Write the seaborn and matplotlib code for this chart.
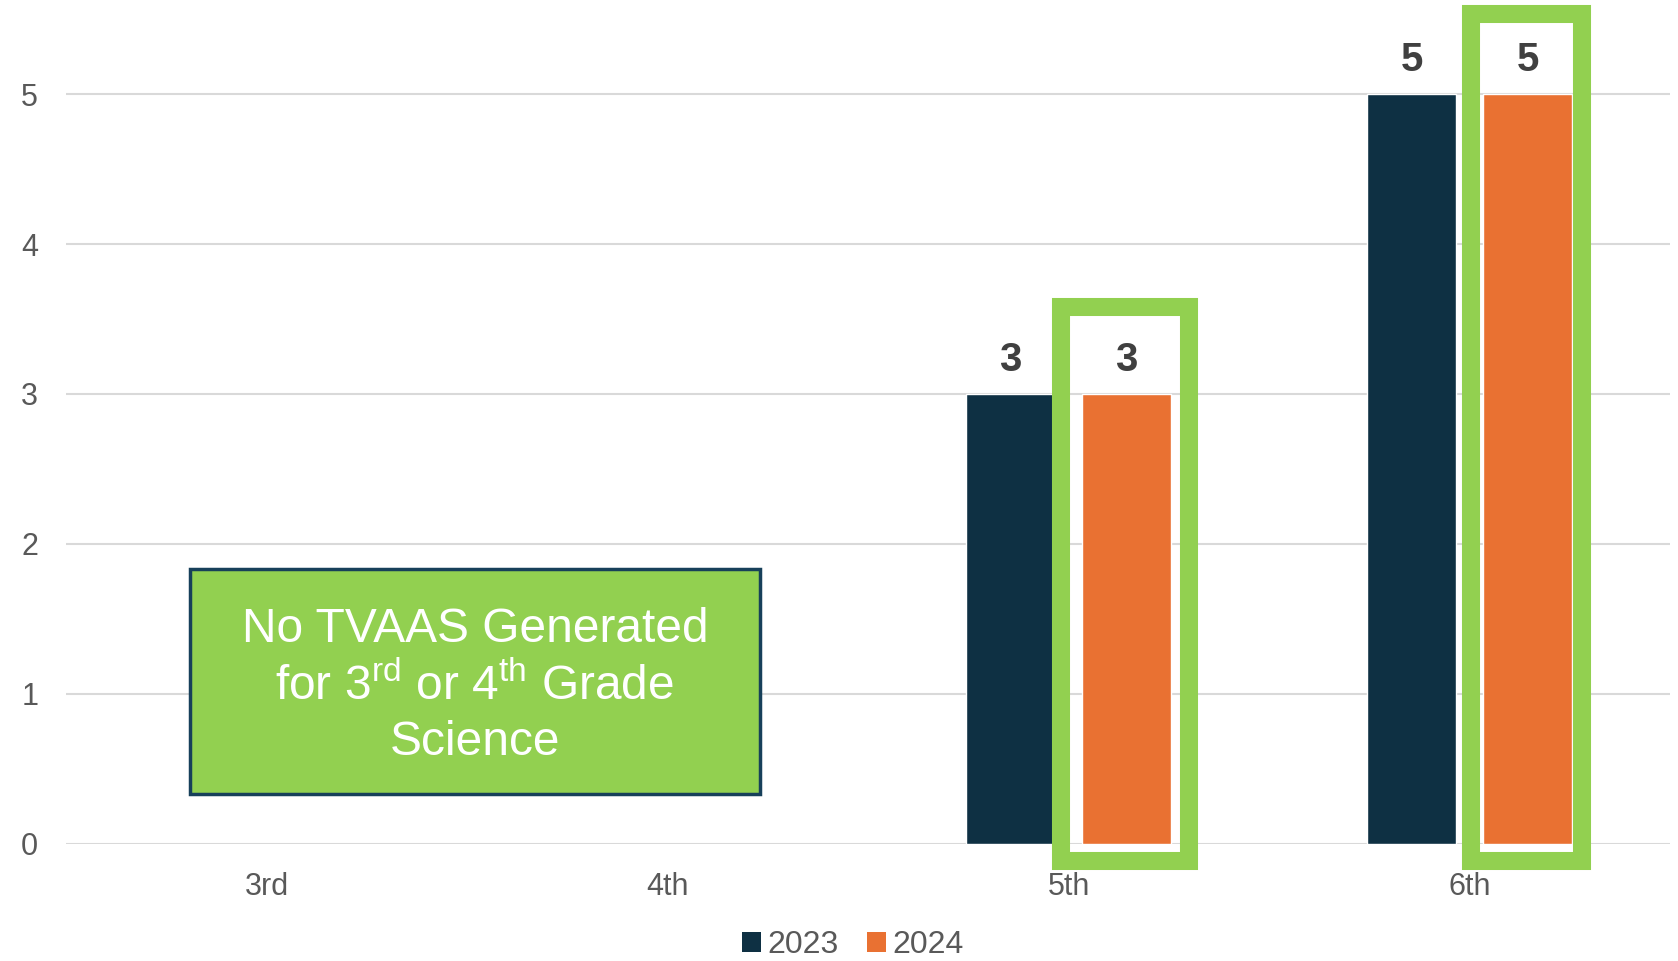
import pandas as pd
import matplotlib
matplotlib.use('Agg')
import matplotlib.pyplot as plt
import seaborn as sns
from matplotlib.patches import Rectangle, Patch

grades = ['3rd', '4th', '5th', '6th']
years = ['2023', '2024']
scores_2023 = [None, None, 3, 5]
scores_2024 = [None, None, 3, 5]
year_colors = ['#0e3043', '#e97132']
note_lines = ['No TVAAS Generated',
              r'for 3$^{\mathrm{rd}}$ or 4$^{\mathrm{th}}$ Grade',
              'Science']

df = pd.DataFrame({
    'grade': grades * 2,
    'year': [years[0]] * 4 + [years[1]] * 4,
    'score': scores_2023 + scores_2024,
}).dropna()

sns.set_style('white')
plt.rcParams['font.family'] = ['Liberation Sans', 'DejaVu Sans']
plt.rcParams['mathtext.fontset'] = 'custom'
plt.rcParams['mathtext.rm'] = 'Liberation Sans'

fig = plt.figure(figsize=(16.78, 9.61), dpi=100)
ax = fig.add_axes([0.0393, 0.1218, 0.956, 0.874])

sns.barplot(data=df, x='grade', y='score', hue='year', order=grades,
            hue_order=years, palette=year_colors, width=0.578, gap=0.23,
            saturation=1, ax=ax, legend=False)

for cont in ax.containers:
    ax.bar_label(cont, fmt='%d', padding=11, fontsize=29, fontweight='bold',
                 color='#404040')

ax.set_xlim(-0.5, 3.5)
ax.set_ylim(0, 5.6)
ax.set_yticks([0, 1, 2, 3, 4, 5])
ax.yaxis.grid(True, color='#d9d9d9', linewidth=1.5)
ax.set_axisbelow(True)
sns.despine(ax=ax, left=True, bottom=True, top=True, right=True)
ax.tick_params(axis='both', length=0, pad=20, labelsize=22, labelcolor='#595959')
ax.set_xlabel('')
ax.set_ylabel('')

# green highlight frames around 2024 bars
ax.add_patch(Rectangle((1.98, -0.117), 0.32, 3.694, fill=False,
                       edgecolor='#92d050', linewidth=13, clip_on=False,
                       joinstyle='miter', zorder=3))
ax.add_patch(Rectangle((3.0025, -0.117), 0.2775, 5.65, fill=False,
                       edgecolor='#92d050', linewidth=13, clip_on=False,
                       joinstyle='miter', zorder=3))

# note box
ax.add_patch(Rectangle((-0.19, 0.33), 1.421, 1.5, facecolor='#92d050',
                       edgecolor='#17405a', linewidth=2.5, zorder=4))
for i, line in enumerate(note_lines):
    ax.text(0.52, 1.43 - i * 0.378, line, ha='center', va='center',
            fontsize=34.5, color='white', zorder=5)

handles = [Patch(facecolor=c, edgecolor='none') for c in year_colors]
fig.legend(handles, years, loc='center', bbox_to_anchor=(853 / 1678, 1 - 945 / 961),
           ncol=2, frameon=False, fontsize=23, labelcolor='#595959',
           handlelength=0.6, handleheight=0.6, handletextpad=0.2, columnspacing=0.9,
           borderpad=0.2)

fig.savefig('out.png', dpi=100)
